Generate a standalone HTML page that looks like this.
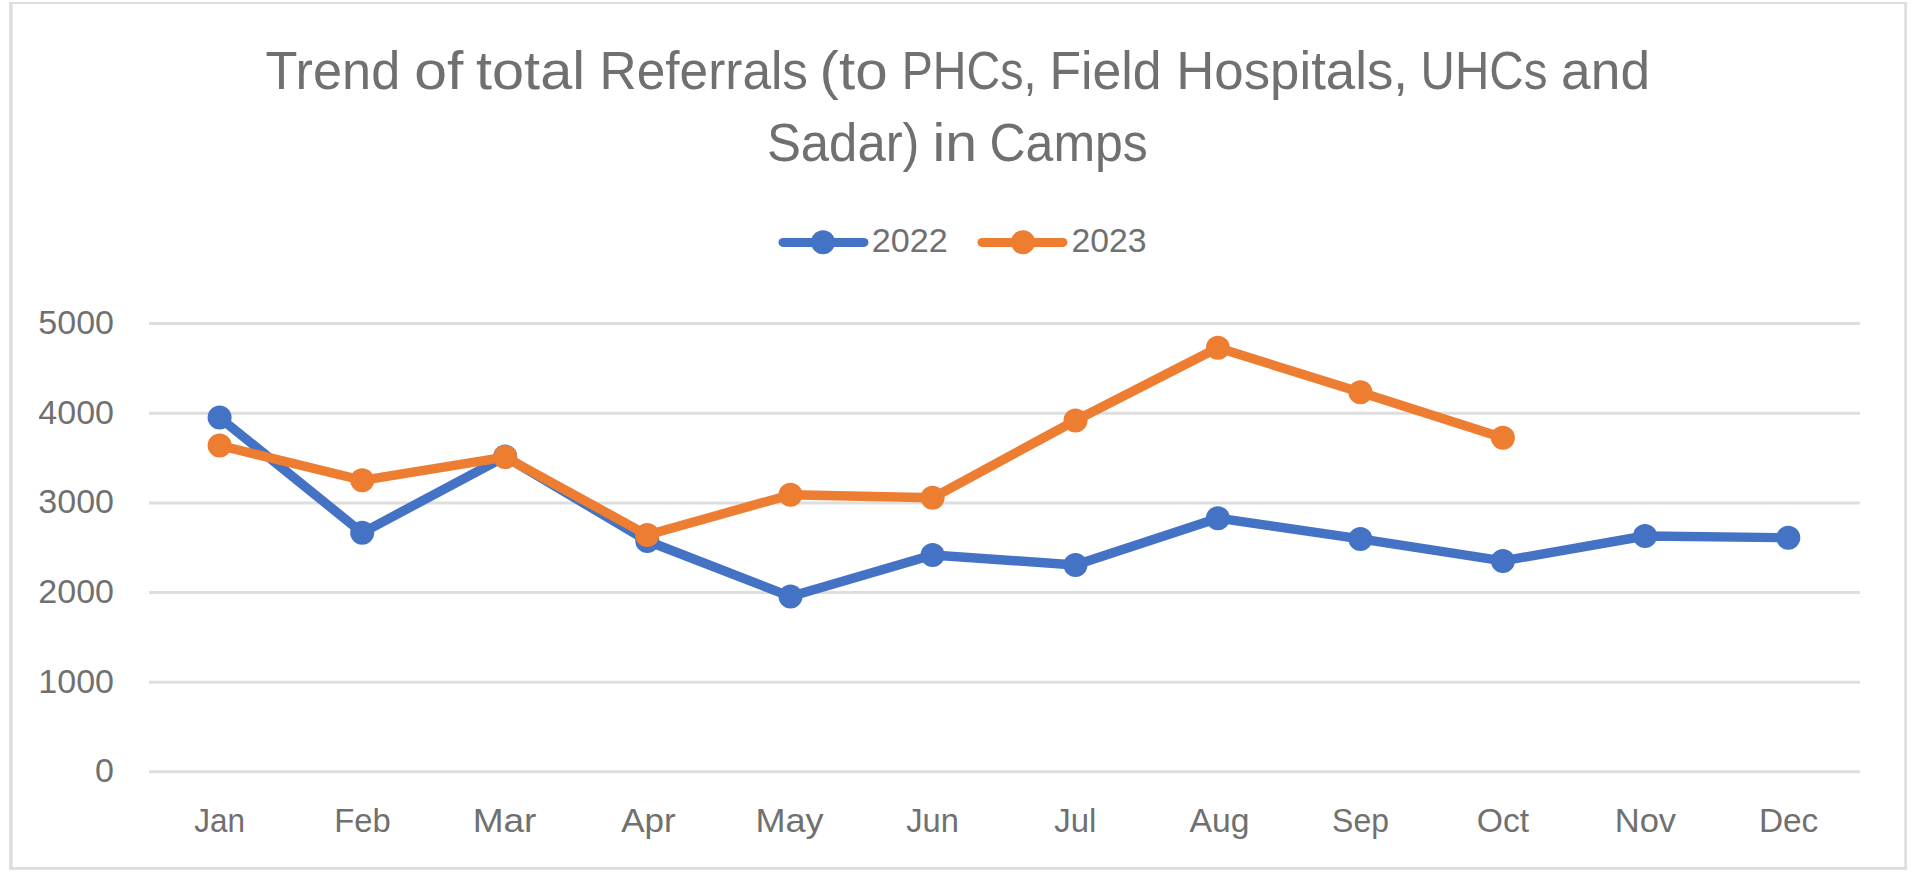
<!DOCTYPE html>
<html><head><meta charset="utf-8">
<style>
html,body{margin:0;padding:0;background:#fff;}
body{width:1918px;height:880px;overflow:hidden;position:relative;}
svg{position:absolute;left:0;top:0;}
text{font-family:"Liberation Sans",sans-serif;fill:#707070;}
</style></head>
<body>
<svg width="1918" height="880" viewBox="0 0 1918 880">
<g fill="#dddddd"><rect x="9" y="2" width="1898" height="2.1"/><rect x="9.2" y="2" width="3.4" height="868"/><rect x="1904.3" y="2" width="2.6" height="868"/><rect x="9" y="867" width="1898" height="2.8"/></g>
<g id="title">
<text transform="translate(265.61,0) scale(0.9871,1)" x="0" y="89.5" font-size="53">Trend</text>
<text transform="translate(414.18,0) scale(1.1095,1)" x="0" y="89.5" font-size="53">of</text>
<text transform="translate(476.01,0) scale(1.0885,1)" x="0" y="89.5" font-size="53">total</text>
<text transform="translate(599.62,0) scale(0.9699,1)" x="0" y="89.5" font-size="53">Referrals</text>
<text transform="translate(819.6,0) scale(1.1,1)" x="0" y="89.5" font-size="53">(to</text>
<text transform="translate(901.78,0) scale(0.8792,1)" x="0" y="89.5" font-size="53">PHCs,</text>
<text transform="translate(1049.5,0) scale(0.975,1)" x="0" y="89.5" font-size="53">Field</text>
<text transform="translate(1176.21,0) scale(0.9964,1)" x="0" y="89.5" font-size="53">Hospitals,</text>
<text transform="translate(1420.61,0) scale(0.8978,1)" x="0" y="89.5" font-size="53">UHCs</text>
<text transform="translate(1561.09,0) scale(1.006,1)" x="0" y="89.5" font-size="53">and</text>
<text transform="translate(766.92,0) scale(0.9595,1)" x="0" y="160.9" font-size="53">Sadar)</text>
<text transform="translate(932.48,0) scale(1.0794,1)" x="0" y="160.9" font-size="53">in</text>
<text transform="translate(989.47,0) scale(0.9436,1)" x="0" y="160.9" font-size="53">Camps</text>
</g>
<g stroke="#dedede" stroke-width="3">
<line x1="149" y1="323.6" x2="1860" y2="323.6"/>
<line x1="149" y1="413.2" x2="1860" y2="413.2"/>
<line x1="149" y1="502.9" x2="1860" y2="502.9"/>
<line x1="149" y1="592.5" x2="1860" y2="592.5"/>
<line x1="149" y1="682.2" x2="1860" y2="682.2"/>
<line x1="149" y1="771.8" x2="1860" y2="771.8"/>
</g>
<g font-size="34" text-anchor="end">
<text x="114" y="334.2">5000</text>
<text x="114" y="423.8">4000</text>
<text x="114" y="513.4">3000</text>
<text x="114" y="603.1">2000</text>
<text x="114" y="692.7">1000</text>
<text x="114" y="782.3">0</text>
</g>
<g id="months">
<text transform="translate(194.17,0) scale(0.9269,1)" x="0" y="832" font-size="34">Jan</text>
<text transform="translate(334.31,0) scale(0.9648,1)" x="0" y="832" font-size="34">Feb</text>
<text transform="translate(472.63,0) scale(1.0891,1)" x="0" y="832" font-size="34">Mar</text>
<text transform="translate(621.3,0) scale(1.0288,1)" x="0" y="832" font-size="34">Apr</text>
<text transform="translate(755.41,0) scale(1.0623,1)" x="0" y="832" font-size="34">May</text>
<text transform="translate(906.24,0) scale(0.9596,1)" x="0" y="832" font-size="34">Jun</text>
<text transform="translate(1054.23,0) scale(0.9675,1)" x="0" y="832" font-size="34">Jul</text>
<text transform="translate(1189.5,0) scale(0.9897,1)" x="0" y="832" font-size="34">Aug</text>
<text transform="translate(1332.12,0) scale(0.9386,1)" x="0" y="832" font-size="34">Sep</text>
<text transform="translate(1476.72,0) scale(0.9902,1)" x="0" y="832" font-size="34">Oct</text>
<text transform="translate(1614.75,0) scale(1.0158,1)" x="0" y="832" font-size="34">Nov</text>
<text transform="translate(1758.95,0) scale(0.9821,1)" x="0" y="832" font-size="34">Dec</text>
</g>
<!-- legend -->
<line x1="783" y1="242.4" x2="864" y2="242.4" stroke="#4472c4" stroke-width="9" stroke-linecap="round"/>
<circle cx="823" cy="242.3" r="12" fill="#4472c4"/>
<text transform="translate(871.69,0) scale(1.0042,1)" x="0" y="252" font-size="34">2022</text>
<line x1="982" y1="242.4" x2="1063" y2="242.4" stroke="#ed7d31" stroke-width="9" stroke-linecap="round"/>
<circle cx="1023" cy="242.3" r="12" fill="#ed7d31"/>
<text transform="translate(1071.51,0) scale(0.9931,1)" x="0" y="252" font-size="34">2023</text>
<!-- series 2022 -->
<g fill="#4472c4">
<polyline fill="none" stroke="#4472c4" stroke-width="9.4" stroke-linejoin="round" stroke-linecap="round" points="219.6,417.6 362.2,532.8 505.2,456.6 647.3,541 790.5,596.6 932.6,555 1075.5,565 1217.9,518.2 1360.4,538.9 1502.9,560.9 1645,536 1788.3,537.7"/>
<circle cx="219.6" cy="417.6" r="12"/><circle cx="362.2" cy="532.8" r="12"/><circle cx="505.2" cy="456.6" r="12"/><circle cx="647.3" cy="541" r="12"/><circle cx="790.5" cy="596.6" r="12"/><circle cx="932.6" cy="555" r="12"/><circle cx="1075.5" cy="565" r="12"/><circle cx="1217.9" cy="518.2" r="12"/><circle cx="1360.4" cy="538.9" r="12"/><circle cx="1502.9" cy="560.9" r="12"/><circle cx="1645" cy="536" r="12"/><circle cx="1788.3" cy="537.7" r="12"/>
</g>
<!-- series 2023 -->
<g fill="#ed7d31">
<polyline fill="none" stroke="#ed7d31" stroke-width="9.4" stroke-linejoin="round" stroke-linecap="round" points="219.6,445.5 362.2,480.3 505.2,457.1 647.3,535 790.5,494.8 932.6,497.8 1075.5,420.5 1217.9,347.8 1360.4,392.3 1502.9,437.7"/>
<circle cx="219.6" cy="445.5" r="12"/><circle cx="362.2" cy="480.3" r="12"/><circle cx="505.2" cy="457.1" r="12"/><circle cx="647.3" cy="535" r="12"/><circle cx="790.5" cy="494.8" r="12"/><circle cx="932.6" cy="497.8" r="12"/><circle cx="1075.5" cy="420.5" r="12"/><circle cx="1217.9" cy="347.8" r="12"/><circle cx="1360.4" cy="392.3" r="12"/><circle cx="1502.9" cy="437.7" r="12"/>
</g>
</svg>
</body></html>
